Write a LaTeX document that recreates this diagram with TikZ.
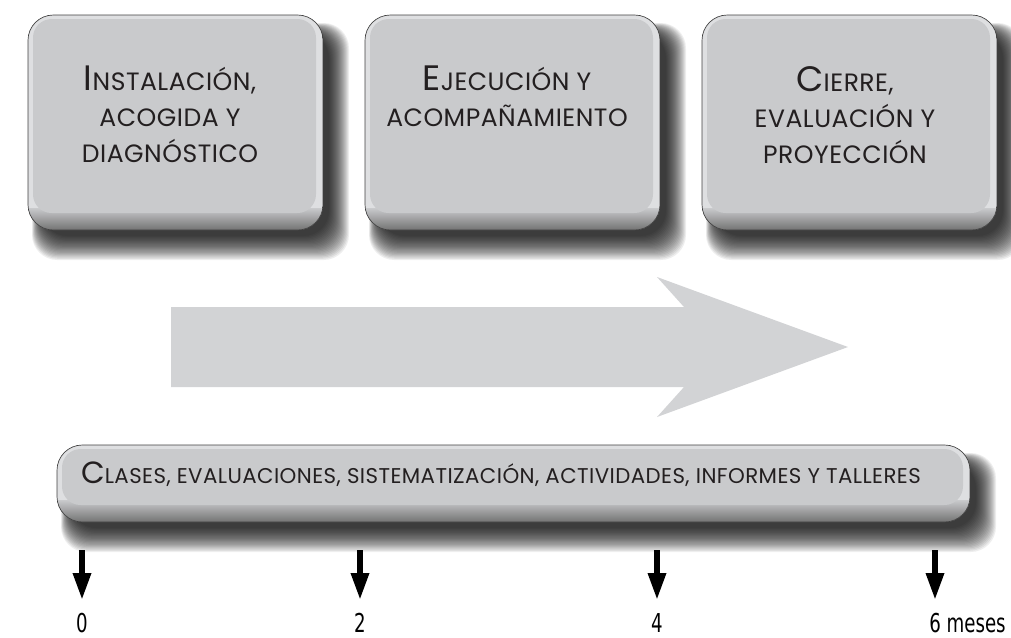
\documentclass[tikz,border=0pt]{standalone}
\usepackage{fontspec}
\setmainfont{Poppins}[LetterSpace=2]
\newfontfamily\numfont[FakeStretch=0.7]{DejaVu Sans}
\usetikzlibrary{arrows.meta, positioning}
\definecolor{boxgray}{RGB}{201,202,204}
\definecolor{edgegray}{RGB}{222,223,225}
\definecolor{arrowgray}{RGB}{210,211,213}
\definecolor{inkgray}{RGB}{35,31,32}

% hand-made small caps
\newcommand{\capA}[1]{{\fontsize{26.5}{27}\selectfont #1}}
\newcommand{\capB}[1]{{\fontsize{23}{22}\selectfont #1}}

% raised box with soft shadow: x1 y1 x2 y2
\newcommand{\raisedbox}[4]{%
  \foreach \e in {20,19,...,0}
    \fill[black, opacity=0.065, rounded corners=19pt]
      (#1+14-\e*0.5,#2+18-\e*0.5) rectangle (#3+6+\e,#4+6+\e*1.2);
  \begin{scope}
    \clip[rounded corners=19pt] (#1,#2) rectangle (#3,#4);
    \fill[edgegray] (#1,#2) rectangle (#3,#4);
    \shade[top color=boxgray, bottom color=black!55] (#1,#4-22) rectangle (#3,#4);
    \fill[boxgray, rounded corners=14pt] (#1+5,#2+4) rectangle (#3-7,#4-17);
  \end{scope}
  \draw[black!75, line width=0.5pt, rounded corners=19pt] (#1,#2) rectangle (#3,#4);
}

\begin{document}
\begin{tikzpicture}[x=0.75pt, y=-0.75pt,
    boxtext/.style={align=center, anchor=north, inner sep=0pt, text=inkgray,
      font=\fontsize{18.8}{27}\selectfont},
    bartext/.style={anchor=base, inner sep=0pt, text=inkgray,
      font=\fontsize{16}{16}\selectfont},
    tick/.style={-{Triangle[width=13pt,length=20pt]}, line width=4pt, black},
    month/.style={anchor=north, inner sep=0pt, font=\numfont\fontsize{19.5}{20}\selectfont}]
  \useasboundingbox (0,0) rectangle (1011,637);

  % stages
  \raisedbox{28}{15}{323}{230}
  \raisedbox{365}{15}{660}{230}
  \raisedbox{702}{15}{997}{230}
  \node[boxtext] (install) at (170,66) {\capA{I}NSTALACIÓN,\\ ACOGIDA Y\\ DIAGNÓSTICO};
  \node[boxtext] (exec) at (507,66) {\capA{E}JECUCIÓN Y\\ ACOMPAÑAMIENTO};
  \node[boxtext] (close) at (845,66) {\capA{C}IERRE,\\ EVALUACIÓN Y\\ PROYECCIÓN};

  % big arrow
  \fill[arrowgray] (171,307) -- (684,307) -- (657,277) -- (848,347)
    -- (657,417) -- (684,387) -- (171,387) -- cycle;

  % activities bar
  \raisedbox{57}{445}{970}{522}
  \node[bartext] (tasks) at (501,483)
    {\capB{C}LASES, EVALUACIONES, SISTEMATIZACIÓN, ACTIVIDADES, INFORMES Y TALLERES};

  % time line
  \coordinate (t0) at (82,550);
  \coordinate (t2) at (360,550);
  \coordinate (t4) at (657,550);
  \coordinate (t6) at (935,550);
  \node[month] (m0) at (82,613) {0};
  \node[month] (m2) at (360,613) {2};
  \node[month] (m4) at (657,613) {4};
  \node[month, anchor=north west] (m6) at (929,613) {6 meses};
  \draw[tick, shorten >=10pt] (t0) -- (m0.north);
  \draw[tick, shorten >=10pt] (t2) -- (m2.north);
  \draw[tick, shorten >=10pt] (t4) -- (m4.north);
  \draw[tick, shorten >=10pt] (t6) -- (t6 |- m6.north);
\end{tikzpicture}
\end{document}
